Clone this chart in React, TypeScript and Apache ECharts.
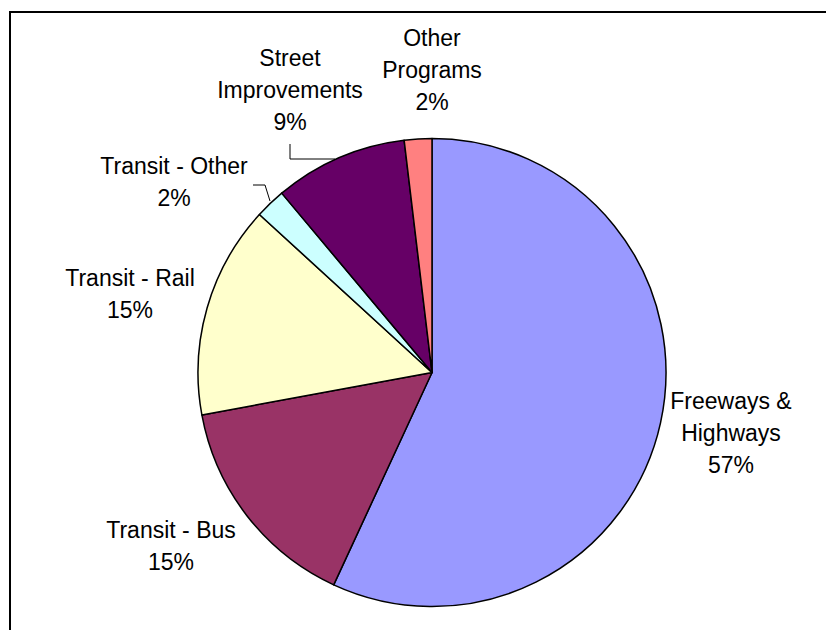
import React, { useEffect, useRef } from "react";
import * as echarts from "echarts";

// Data
const categories = [
  "Freeways & Highways",
  "Transit - Bus",
  "Transit - Rail",
  "Transit - Other",
  "Street Improvements",
  "Other Programs",
];
const labelTexts = [
  "Freeways &\nHighways",
  "Transit - Bus",
  "Transit - Rail",
  "Transit - Other",
  "Street\nImprovements",
  "Other\nPrograms",
];
const values = [56.9, 15.2, 14.7, 2.1, 9.2, 1.9];
const colors = ["#9999FF", "#993366", "#FFFFCC", "#CCFFFF", "#660066", "#FF8080"];

// Layout (label centers in px, leader lines)
const labelCenters: [number, number][] = [
  [731, 433],
  [171, 546],
  [130, 294],
  [174, 182],
  [290, 90],
  [432, 70],
];
const leaderLines: ([number, number][] | null)[] = [
  null,
  null,
  null,
  [[270, 201], [265, 185], [253, 185]],
  [[335, 159], [290, 159], [290, 144]],
  null,
];

export default function App() {
  const ref = useRef<HTMLDivElement>(null);
  useEffect(() => {
    if (!ref.current) return;
    const chart = echarts.init(ref.current, undefined, { renderer: "svg" });
    chart.setOption({
      animation: false,
      backgroundColor: "#ffffff",
      textStyle: { fontFamily: "Liberation Sans, Arial, sans-serif" },
      graphic: [
        {
          type: "rect",
          shape: { x: 10, y: 12, width: 900, height: 700 },
          style: { fill: "none", stroke: "#000", lineWidth: 2 },
          z: 0,
        },
      ],
      series: [
        {
          type: "pie",
          center: [432, 372.5],
          radius: 234,
          startAngle: 90,
          clockwise: true,
          percentPrecision: 0,
          avoidLabelOverlap: false,
          itemStyle: { borderColor: "#000", borderWidth: 1.5 },
          emphasis: { disabled: true },
          label: {
            show: true,
            position: "outside",
            color: "#000",
            fontSize: 23,
            lineHeight: 32,
            align: "center",
            fontFamily: "Liberation Sans, Arial, sans-serif",
            formatter: (p: any) => `${labelTexts[p.dataIndex]}\n${p.percent}%`,
          },
          labelLine: { show: false, lineStyle: { color: "#000", width: 1 } },
          labelLayout: (p: any) => {
            const i = p.dataIndex;
            const out: any = {
              x: labelCenters[i][0],
              y: labelCenters[i][1],
              align: "center",
              verticalAlign: "middle",
            };
            if (leaderLines[i]) out.labelLinePoints = leaderLines[i];
            return out;
          },
          data: categories.map((name, i) => ({
            name,
            value: values[i],
            itemStyle: { color: colors[i] },
            labelLine: { show: !!leaderLines[i], lineStyle: { color: "#000", width: 1 } },
          })),
        },
      ],
    });
    return () => chart.dispose();
  }, []);
  return (
    <div
      ref={ref}
      style={{ position: "fixed", left: 0, top: 0, width: 826, height: 630 }}
    />
  );
}
